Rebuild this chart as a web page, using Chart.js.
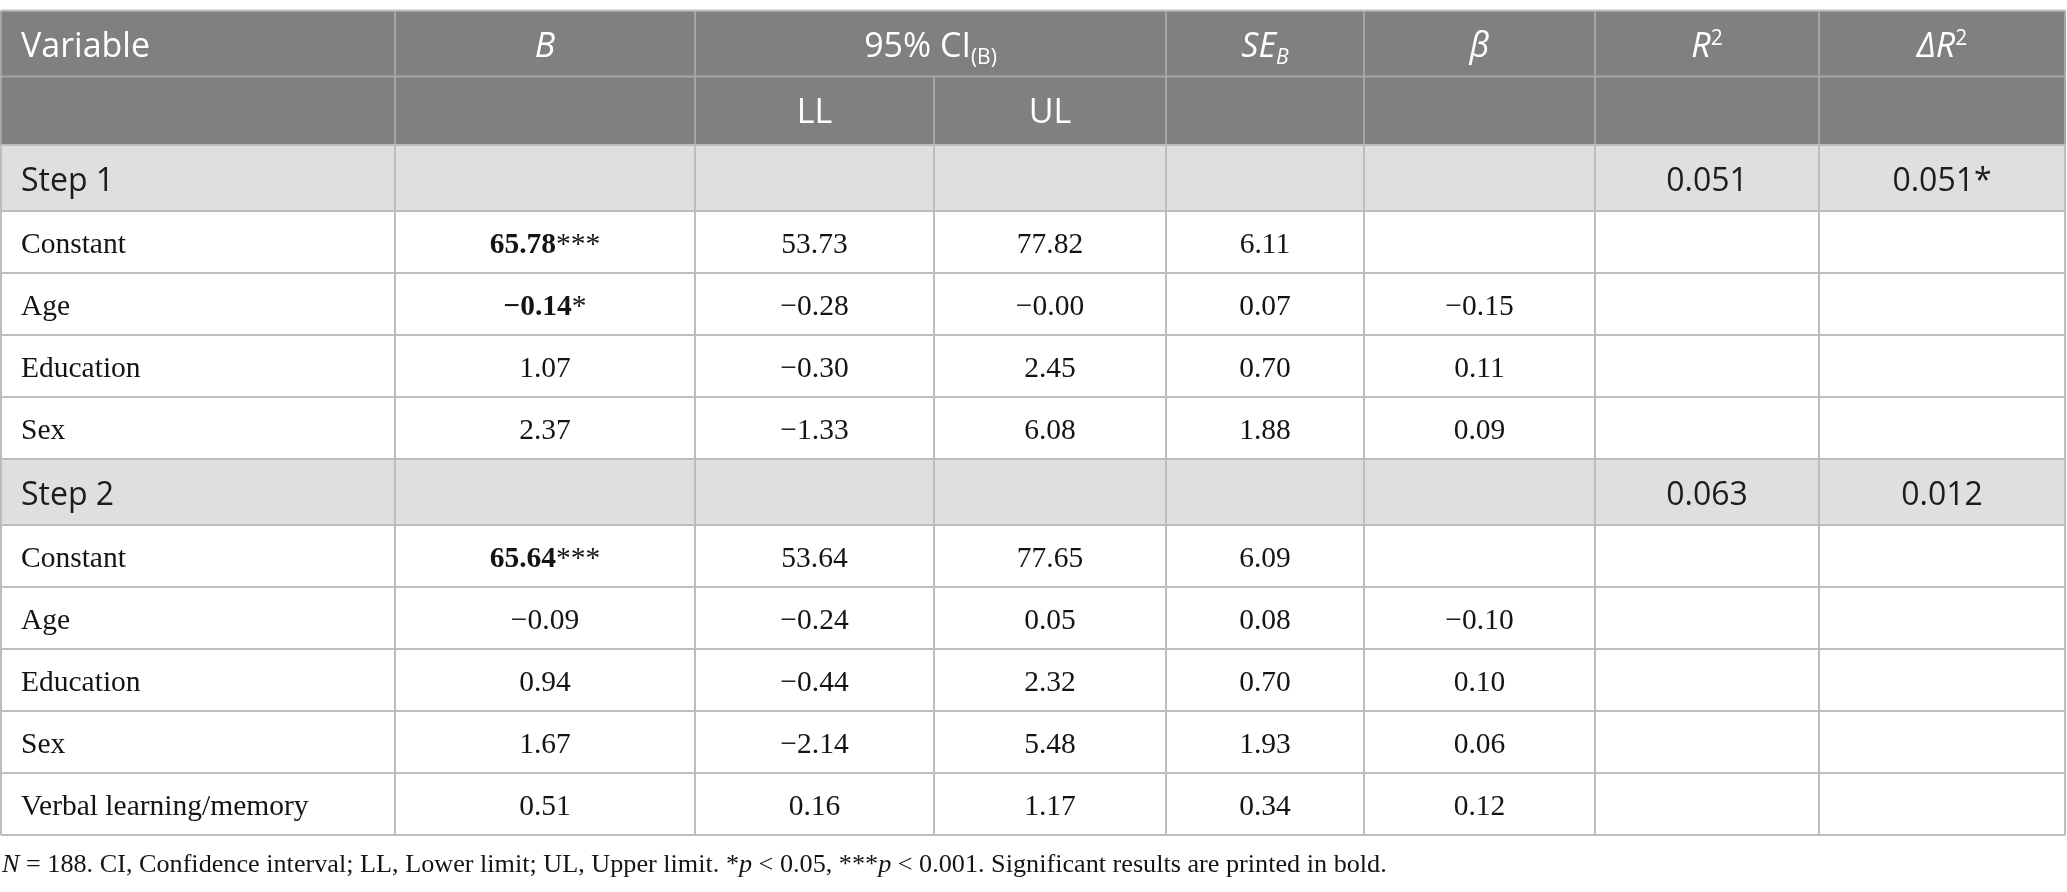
<!DOCTYPE html>
<html>
<head>
<meta charset="utf-8">
<script src="https://cdn.jsdelivr.net/npm/chart.js@4.4.0/dist/chart.umd.min.js"></script>
<style>
    html, body { margin: 0; padding: 0; background: #fff; }
    #wrap { width: 2067px; height: 892px; }
</style>
</head>
<body>
<div id="wrap"><canvas id="table-chart" width="2067" height="892"></canvas></div>
<script>
// Données du tableau
const stepLabels = ['Step 1', 'Step 2'];
const stepR2 = ['0.051', '0.063'];
const stepDeltaR2 = ['0.051*', '0.012'];

const step1Variables = ['Constant', 'Age', 'Education', 'Sex'];
const step1B = ['65.78', '\u22120.14', '1.07', '2.37'];
const step1BStars = ['***', '*', '', ''];
const step1LL = ['53.73', '\u22120.28', '\u22120.30', '\u22121.33'];
const step1UL = ['77.82', '\u22120.00', '2.45', '6.08'];
const step1SE = ['6.11', '0.07', '0.70', '1.88'];
const step1Beta = ['', '\u22120.15', '0.11', '0.09'];

const step2Variables = ['Constant', 'Age', 'Education', 'Sex', 'Verbal learning/memory'];
const step2B = ['65.64', '\u22120.09', '0.94', '1.67', '0.51'];
const step2BStars = ['***', '', '', '', ''];
const step2LL = ['53.64', '\u22120.24', '\u22120.44', '\u22122.14', '0.16'];
const step2UL = ['77.65', '0.05', '2.32', '5.48', '1.17'];
const step2SE = ['6.09', '0.08', '0.70', '1.93', '0.34'];
const step2Beta = ['', '\u22120.10', '0.10', '0.06', '0.12'];

const subHeaderLabels = ['LL', 'UL'];

// Mise en page (unités des axes)
const columnEdges = [1, 395, 695, 934, 1166, 1364, 1595, 1819, 2065];
const tableTop = 10.5;
const headerHeights = [66, 68.5];
const stepHeight = 66;
const dataHeight = 62;
const footnoteBaseline = 872;

const HEADER_BG = '#7f807f';
const HEADER_LINE = '#a4a5a4';
const STEP_BG = '#e0dfe0';
const GRID_LINE = '#bdbdbd';

const SANS = '"Open Sans", "Noto Sans", sans-serif';
const SERIF = '"Liberation Serif", "DejaVu Serif", serif';

/**
 * Construit la liste des lignes du tableau
 */
function buildRows() {
    const rows = [];
    let y = tableTop;
    headerHeights.forEach((h, i) => {
        rows.push({ kind: 'header', index: i, top: y, bottom: y + h });
        y += h;
    });
    const steps = [
        { vars: step1Variables, b: step1B, stars: step1BStars, ll: step1LL, ul: step1UL, se: step1SE, beta: step1Beta },
        { vars: step2Variables, b: step2B, stars: step2BStars, ll: step2LL, ul: step2UL, se: step2SE, beta: step2Beta },
    ];
    steps.forEach((s, si) => {
        rows.push({ kind: 'step', index: si, top: y, bottom: y + stepHeight });
        y += stepHeight;
        s.vars.forEach((v, i) => {
            rows.push({
                kind: 'data', top: y, bottom: y + dataHeight,
                cells: [v, s.b[i], s.ll[i], s.ul[i], s.se[i], s.beta[i]],
                stars: s.stars[i],
            });
            y += dataHeight;
        });
    });
    return rows;
}

/**
 * Dessine une suite de morceaux de texte avec des polices différentes
 */
function drawRuns(ctx, runs, x, y, align) {
    let total = 0;
    runs.forEach(r => {
        ctx.font = r.font;
        r.w = ctx.measureText(r.t).width;
        total += r.w;
    });
    let cx = align === 'center' ? x - total / 2 : x;
    runs.forEach(r => {
        ctx.font = r.font;
        ctx.fillText(r.t, cx, y + (r.dy || 0));
        cx += r.w;
    });
}

const tablePlugin = {
    id: 'regressionTable',
    beforeDatasetsDraw(chart) {
        const ctx = chart.ctx;
        const xs = chart.scales.x;
        const ys = chart.scales.y;
        const px = v => xs.getPixelForValue(v);
        const py = v => ys.getPixelForValue(v);
        const rows = buildRows();
        const left = px(columnEdges[0]);
        const right = px(columnEdges[columnEdges.length - 1]);
        const mid = c => (px(columnEdges[c]) + px(columnEdges[c + 1])) / 2;

        ctx.save();
        ctx.textAlign = 'left';
        ctx.textBaseline = 'alphabetic';

        // Fonds
        rows.forEach(r => {
            ctx.fillStyle = r.kind === 'header' ? HEADER_BG : (r.kind === 'step' ? STEP_BG : '#ffffff');
            ctx.fillRect(left, py(r.top), right - left, py(r.bottom) - py(r.top));
        });

        // Lignes
        ctx.lineWidth = 2;
        rows.forEach(r => {
            const top = py(r.top);
            const bottom = py(r.bottom);
            ctx.strokeStyle = r.kind === 'header' ? HEADER_LINE : GRID_LINE;
            columnEdges.forEach((e, c) => {
                if (r.kind === 'header' && r.index === 0 && c === 3) return;
                ctx.beginPath();
                ctx.moveTo(px(e), top);
                ctx.lineTo(px(e), bottom);
                ctx.stroke();
            });
        });
        rows.forEach((r, i) => {
            ctx.strokeStyle = (r.kind === 'header' && i > 0) ? HEADER_LINE : GRID_LINE;
            ctx.beginPath();
            ctx.moveTo(left, py(r.top));
            ctx.lineTo(right, py(r.top));
            ctx.stroke();
        });
        const last = rows[rows.length - 1];
        ctx.strokeStyle = GRID_LINE;
        ctx.beginPath();
        ctx.moveTo(left, py(last.bottom));
        ctx.lineTo(right, py(last.bottom));
        ctx.stroke();

        // Textes
        const H = 34, HS = 21;
        const head = `${H}px ${SANS}`;
        const headI = `italic ${H}px ${SANS}`;
        const headS = `${HS}px ${SANS}`;
        const headSI = `italic ${HS}px ${SANS}`;
        rows.forEach(r => {
            const cy = (py(r.top) + py(r.bottom)) / 2;
            if (r.kind === 'header') {
                ctx.fillStyle = '#ffffff';
                const by = cy + 0.36 * H + 1;
                if (r.index === 0) {
                    drawRuns(ctx, [{ t: 'Variable', font: head }], left + 20, by, 'left');
                    drawRuns(ctx, [{ t: 'B', font: headI }], mid(1), by, 'center');
                    drawRuns(ctx, [{ t: '95% CI', font: head }, { t: '(B)', font: headS, dy: 7 }],
                        (px(columnEdges[2]) + px(columnEdges[4])) / 2, by, 'center');
                    drawRuns(ctx, [{ t: 'SE', font: headI }, { t: 'B', font: headSI, dy: 7 }], mid(4), by, 'center');
                    drawRuns(ctx, [{ t: '\u03B2', font: headI }], mid(5), by, 'center');
                    drawRuns(ctx, [{ t: 'R', font: headI }, { t: '2', font: headS, dy: -12 }], mid(6), by, 'center');
                    drawRuns(ctx, [{ t: '\u0394', font: headI }, { t: 'R', font: headI }, { t: '2', font: headS, dy: -12 }], mid(7), by, 'center');
                } else {
                    subHeaderLabels.forEach((lab, k) => {
                        drawRuns(ctx, [{ t: lab, font: head }], mid(2 + k), cy + 0.36 * H, 'center');
                    });
                }
            } else if (r.kind === 'step') {
                ctx.fillStyle = '#1c1c1c';
                const S = 32;
                const f = `${S}px ${SANS}`;
                const by = cy + 0.36 * S + 1;
                drawRuns(ctx, [{ t: stepLabels[r.index], font: f }], left + 20, by, 'left');
                drawRuns(ctx, [{ t: stepR2[r.index], font: f }], mid(6), by, 'center');
                drawRuns(ctx, [{ t: stepDeltaR2[r.index], font: f }], mid(7), by, 'center');
            } else {
                ctx.fillStyle = '#141414';
                const D = 29.5;
                const f = `${D}px ${SERIF}`;
                const fb = `bold ${D}px ${SERIF}`;
                const by = cy + 0.33 * D + 1;
                drawRuns(ctx, [{ t: r.cells[0], font: f }], left + 20, by, 'left');
                for (let c = 1; c < r.cells.length; c++) {
                    if (!r.cells[c]) continue;
                    if (c === 1 && r.stars) {
                        drawRuns(ctx, [{ t: r.cells[c], font: fb }, { t: r.stars, font: f }], mid(c), by, 'center');
                    } else {
                        drawRuns(ctx, [{ t: r.cells[c], font: f }], mid(c), by, 'center');
                    }
                }
            }
        });

        // Note de bas de tableau
        const N = 26.2;
        const nf = `${N}px ${SERIF}`;
        const nfi = `italic ${N}px ${SERIF}`;
        ctx.fillStyle = '#141414';
        drawRuns(ctx, [
            { t: 'N', font: nfi },
            { t: ' = 188. CI, Confidence interval; LL, Lower limit; UL, Upper limit. *', font: nf },
            { t: 'p', font: nfi },
            { t: ' < 0.05, ***', font: nf },
            { t: 'p', font: nfi },
            { t: ' < 0.001. Significant results are printed in bold.', font: nf },
        ], left + 1, py(footnoteBaseline), 'left');

        ctx.restore();
    }
};

const tableChart = new Chart(document.getElementById('table-chart'), {
    type: 'scatter',
    data: { datasets: [] },
    options: {
        responsive: false,
        animation: false,
        devicePixelRatio: 1,
        layout: { padding: 0 },
        plugins: {
            legend: { display: false },
            tooltip: { enabled: false },
        },
        scales: {
            x: { type: 'linear', min: 0, max: 2067, display: false },
            y: { type: 'linear', min: 0, max: 892, reverse: true, display: false },
        }
    },
    plugins: [tablePlugin]
});
</script>
</body>
</html>
